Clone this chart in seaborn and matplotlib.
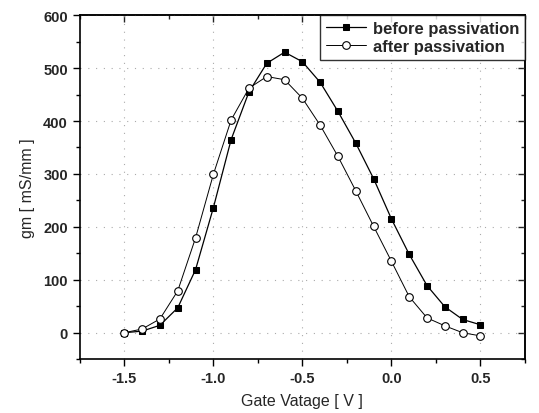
import numpy as np
import pandas as pd
import matplotlib
matplotlib.use("Agg")
import matplotlib.pyplot as plt
import seaborn as sns
from matplotlib.ticker import MultipleLocator

gate_v = [-1.5, -1.4, -1.3, -1.2, -1.1, -1.0, -0.9, -0.8, -0.7, -0.6, -0.5,
          -0.4, -0.3, -0.2, -0.1, 0.0, 0.1, 0.2, 0.3, 0.4, 0.5]
gm_before = [0, 3, 14, 47, 119, 236, 365, 455, 509, 530, 512,
             473, 418, 358, 291, 215, 148, 89, 49, 25, 15]
gm_after = [0, 7, 26, 79, 179, 299, 402, 462, 484, 478, 443,
            392, 333, 268, 201, 135, 68, 28, 13, 0, -6]
series_names = ["before passivation", "after passivation"]
x_ticks = [-1.5, -1.0, -0.5, 0.0, 0.5]
y_ticks = [0, 100, 200, 300, 400, 500, 600]

sns.set_theme(style="white")
plt.rcParams['font.family'] = ['Liberation Sans', 'DejaVu Sans']

df_b = pd.DataFrame({"V": gate_v, "gm": gm_before})
df_a = pd.DataFrame({"V": gate_v, "gm": gm_after})

fig = plt.figure(figsize=(5.39, 4.14), dpi=100)
ax = fig.add_axes([0.148, 0.130, 0.826, 0.831])

sns.lineplot(data=df_b, x="V", y="gm", ax=ax, color="black", lw=0.9,
             marker="s", markersize=5, markerfacecolor="black",
             markeredgecolor="black", label=series_names[0])
sns.lineplot(data=df_a, x="V", y="gm", ax=ax, color="black", lw=0.7,
             marker="o", markersize=5.5, markerfacecolor="white",
             markeredgecolor="black", markeredgewidth=0.8, label=series_names[1])

ax.set_xlim(-1.75, 0.75)
ax.set_ylim(-50, 600)
ax.set_xticks(x_ticks)
ax.set_xticklabels([f"{v:.1f}" for v in x_ticks], fontweight="bold", fontsize=10.5)
ax.set_yticks(y_ticks)
ax.set_yticklabels([str(v) for v in y_ticks], fontweight="bold", fontsize=10.5)
ax.xaxis.set_minor_locator(MultipleLocator(0.25))
ax.yaxis.set_minor_locator(MultipleLocator(50))
ax.tick_params(which="both", bottom=True, left=True, top=False, right=False,
               direction="out", color="black")
ax.tick_params(which="major", length=5, width=1)
ax.tick_params(which="minor", length=3, width=1)

# top/right ticks inward
ax2x = ax.secondary_xaxis("top")
ax2x.set_xticks(x_ticks)
ax2x.set_xticklabels([])
ax2x.xaxis.set_minor_locator(MultipleLocator(0.25))
ax2x.tick_params(which="major", direction="in", length=5, width=1)
ax2x.tick_params(which="minor", direction="in", length=3, width=1)
ax2y = ax.secondary_yaxis("right")
ax2y.set_yticks(y_ticks)
ax2y.set_yticklabels([])
ax2y.yaxis.set_minor_locator(MultipleLocator(50))
ax2y.tick_params(which="major", direction="in", length=5, width=1)
ax2y.tick_params(which="minor", direction="in", length=3, width=1)

ax.grid(True, which="major", linestyle=(0, (1, 6)), color="#aaaaaa", lw=0.8)

for s in ax.spines.values():
    s.set_color("black")
    s.set_linewidth(1.2)
ax2x.spines["top"].set_linewidth(1.2)
ax2y.spines["right"].set_linewidth(1.2)

ax.set_xlabel("Gate Vatage [ V ]", fontsize=11.5, labelpad=6)
ax.set_ylabel("gm [ mS/mm ]", fontsize=11.5, labelpad=6)

leg = ax.legend(loc="upper right", fontsize=12, frameon=True, fancybox=False,
                borderaxespad=0.0, handlelength=2.4, handletextpad=0.4,
                borderpad=0.35, labelspacing=0.2)
leg.get_frame().set_edgecolor("black")
leg.get_frame().set_linewidth(1.0)
for t in leg.get_texts():
    t.set_fontweight("bold")

fig.savefig("out.png", dpi=100)
